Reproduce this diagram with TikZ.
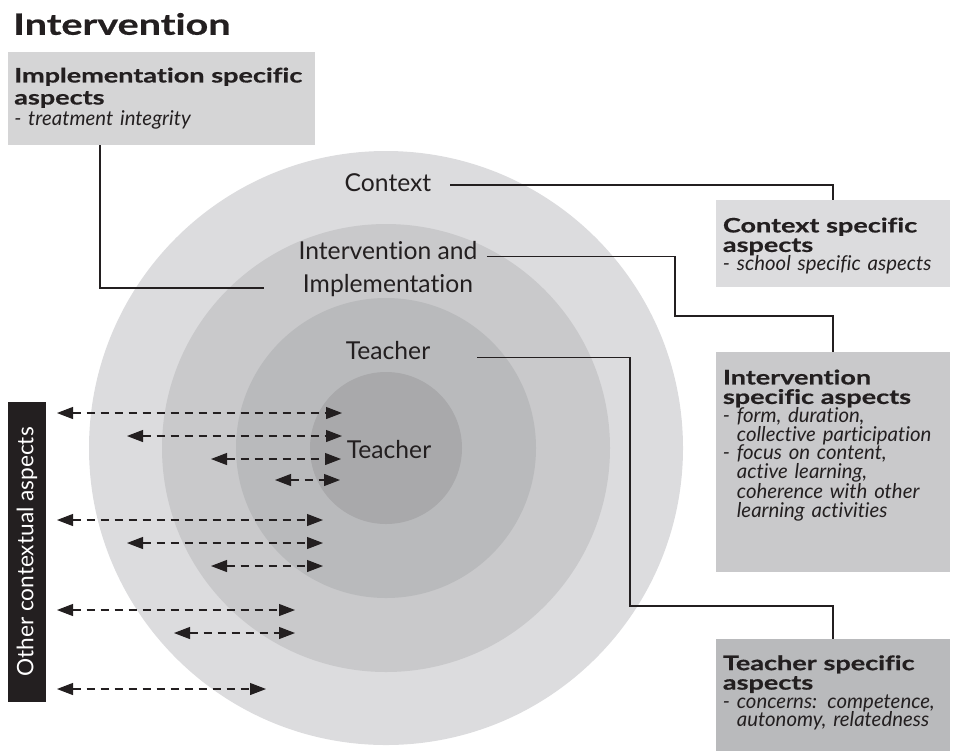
\documentclass[tikz,border=0pt]{standalone}
\usepackage{fontspec}
\setmainfont{Lato}[Ligatures=NoCommon]
\newfontfamily\headfont{Lato}[Ligatures=NoCommon,FakeStretch=1.35,FakeBold=0.6]
\usetikzlibrary{arrows.meta}
\definecolor{inkgray}{HTML}{231F20}
\definecolor{ringone}{HTML}{DCDCDE}
\definecolor{ringtwo}{HTML}{C9C9CB}
\definecolor{ringthree}{HTML}{B9BABC}
\definecolor{ringfour}{HTML}{A9A9AB}
\definecolor{impgray}{HTML}{D5D5D6}

\begin{document}
\begin{tikzpicture}[x=0.75pt,y=-0.75pt,
	ringlabel/.style={inner sep=0pt,text=inkgray,font=\fontsize{18.5}{22}\selectfont},
	aspectbox/.style={anchor=north west,inner sep=0pt,outer sep=0pt},
	aspecttext/.style={anchor=north west,inner sep=0pt,text width=#1,align=left,text=inkgray,font=\fontsize{15.3}{14}\selectfont},
	link/.style={draw=inkgray,line width=1.1pt},
	twoway/.style={draw=inkgray,line width=0.8pt,dash pattern=on 6.5pt off 4pt,arrows={Triangle[length=12pt,width=9pt]-Triangle[length=12pt,width=9pt]}}]
	\useasboundingbox (0,0) rectangle (955,751);
	% rings
	\fill[ringone](386,448) circle[radius=297];
	\fill[ringtwo](386,448) circle[radius=224];
	\fill[ringthree](386,448) circle[radius=150];
	\fill[ringfour](386,448) circle[radius=76];
	% ring labels
	\node[ringlabel] (ctx) at (388,183) {Context};
	\node[ringlabel] (iiA) at (388,251) {Intervention and};
	\node[ringlabel] (iiB) at (388,286) {Implementation};
	\node[ringlabel] (teachB) at (388,351) {Teacher};
	\node[ringlabel] (teachA) at (389,450) {Teacher};
	% title
	\node[inner sep=0pt,anchor=west,text=inkgray,font=\fontsize{22}{24}\headfont\bfseries] (title) at (13,24) {Intervention};
	% boxes
	\node[aspectbox,fill=impgray,minimum width=230.25pt,minimum height=69.75pt] (impbox) at (8,52) {};
	\node[aspecttext=225pt] (imptext) at ([xshift=4.5pt,yshift=-11.5pt]impbox.north west) {{\fontsize{15}{16.5}\headfont\bfseries Implementation specific\\aspects\par}\vspace{1.5pt}\itshape - treatment integrity};
	\node[aspectbox,fill=ringone,minimum width=175.5pt,minimum height=65.25pt] (ctxbox) at (716,200) {};
	\node[aspecttext=174pt] (ctxtext) at ([xshift=5pt,yshift=-13pt]ctxbox.north west) {{\fontsize{15}{14.6}\headfont\bfseries Context specific\\aspects\par}\itshape - school specific aspects};
	\node[aspectbox,fill=ringtwo,minimum width=175.5pt,minimum height=165pt] (ivbox) at (716,352) {};
	\node[aspecttext=174pt] (ivtext) at ([xshift=5pt,yshift=-13pt]ivbox.north west) {{\fontsize{15}{14.6}\headfont\bfseries Intervention\\specific aspects\par}\itshape - form, duration,\\\hphantom{- }collective participation\\- focus on content,\\\hphantom{- }active learning,\\\hphantom{- }coherence with other\\\hphantom{- }learning activities};
	\node[aspectbox,fill=ringthree,minimum width=175.5pt,minimum height=84pt] (tbox) at (716,639) {};
	\node[aspecttext=174pt] (ttext) at ([xshift=5pt,yshift=-12pt]tbox.north west) {{\fontsize{15}{14.6}\headfont\bfseries Teacher specific\\aspects\par}\itshape - concerns: competence,\\\hphantom{- }autonomy, relatedness};
	% side bar
	\node[fill=inkgray,text=white,rotate=90,inner sep=0pt,minimum width=225pt,minimum height=28.5pt,font=\fontsize{17}{20}\selectfont] (other) at (27,552) {Other contextual aspects};
	% connectors
	\coordinate (impbend) at (100,288);
	\coordinate (ivbend) at (675,316);
	\coordinate (tbend) at (630,606);
	\draw[link] (impbox.south -| impbend) -- (impbend) -- (impbend -| iiB.west) [shorten >=29pt];
	\draw[link] ([xshift=14pt,yshift=-1.5pt]ctx.east) -| (ctxbox.north);
	\draw[link] ([xshift=7pt,yshift=-4pt]iiA.east) -| (ivbend) -| (ivbox.north);
	\draw[link] ([xshift=35pt,yshift=-5pt]teachB.east) -| (tbend) -| (tbox.north);
	% arrows
	\foreach \y/\xa/\xb [count=\i] in {413/57/342,436/127/342,459/211/341,480/275/340,520/57/323,543/127/323,566/211/323,610/57/295,633/174/295,689/57/266}{
		\coordinate (l\i) at (\xa,\y);
		\coordinate (r\i) at (\xb,\y);
		\draw[twoway] (l\i) -- (r\i);
	}
\end{tikzpicture}
\end{document}
